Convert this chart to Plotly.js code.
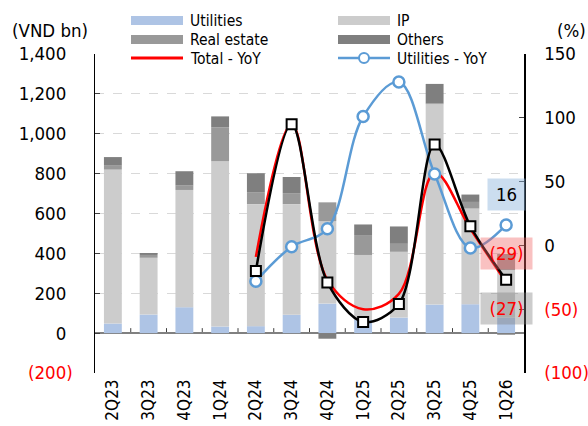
<!DOCTYPE html>
<html>
<head>
<meta charset="utf-8">
<script src="https://cdn.plot.ly/plotly-3.0.1.min.js"></script>
<style>html,body{margin:0;padding:0;background:#fff;}#chart{width:588px;height:426px;}</style>
</head>
<body>
<div id="chart"></div>
<script>
// ---- data ----
const categories   = ['2Q23','3Q23','4Q23','1Q24','2Q24','3Q24','4Q24','1Q25','2Q25','3Q25','4Q25','1Q26'];
const utilities    = [48, 93, 130, 33, 35, 92, 148, 66, 78, 143, 145, 78];
const ip           = [772, 285, 588, 829, 612, 555, 414, 326, 330, 1005, 480, 238];
const realEstate   = [20, 14, 24, 170, 60, 55, 94, 100, 40, 5, 33, 81];
const others       = [43, 10, 70, 55, 95, 81, -28, 53, 87, 97, 37, -8];
const yoyCats      = ['2Q24','3Q24','4Q24','1Q25','2Q25','3Q25','4Q25','1Q26'];
const totalYoY     = [-9, 95, -27, -50, -38, 57, 13, -29];
const ipYoY        = [-20, 95, -29, -60, -46, 79, 15, -27];
const utilitiesYoY = [-28, -1, 13, 101, 128, 56, -2, 16];
const leftTickVals   = [-200, 0, 200, 400, 600, 800, 1000, 1200, 1400];
const leftTickLabels = ['(200)', '0', '200', '400', '600', '800', '1,000', '1,200', '1,400'];
const rightTickVals   = [-100, -50, 0, 50, 100, 150];
const rightTickLabels = ['(100)', '(50)', '0', '50', '100', '150'];

// ---- styling ----
const FONT = 'DejaVu Sans Condensed, Liberation Sans, Arial, sans-serif';
const C_UTIL = '#AEC4E5', C_IP = '#CCCCCC', C_RE = '#999999', C_OTH = '#7F7F7F';
const C_RED = '#FF0000', C_BLUE = '#5B9BD5';
const L = 95, R = 64, T = 54, B = 53, W = 588 - L - R, H = 426 - T - B;
const px = x => (x - L) / W;
const py = y => (426 - B - y) / H;

const fmt = v => v < 0 ? '(' + Math.abs(v) + ')' : String(v);
const leftText = leftTickLabels.map((t, i) => leftTickVals[i] < 0
  ? '<span style="color:#FF0000">' + t + '</span>'
  : t + '<span style="color:rgba(0,0,0,0)">)</span>');
const rightText = rightTickLabels.map((t, i) => rightTickVals[i] < 0
  ? '<span style="color:#FF0000">' + t + '</span>' : t);

const bar = (name, y, color) => ({
  type: 'bar', name, x: categories, y, marker: {color, line: {width: 0}},
  showlegend: false, hoverinfo: 'skip'
});

const traces = [
  bar('Utilities', utilities, C_UTIL),
  bar('IP', ip, C_IP),
  bar('Real estate', realEstate, C_RE),
  bar('Others', others, C_OTH),
  {type: 'scatter', mode: 'lines', name: 'Total - YoY', x: yoyCats, y: totalYoY, yaxis: 'y2',
   line: {color: C_RED, width: 2.5, shape: 'spline'}, showlegend: false},
  {type: 'scatter', mode: 'lines+markers', name: 'Utilities - YoY', x: yoyCats, y: utilitiesYoY, yaxis: 'y2',
   line: {color: C_BLUE, width: 2.5, shape: 'spline'},
   marker: {symbol: 'circle', size: 11, color: '#FFFFFF', line: {color: C_BLUE, width: 2.5}}, showlegend: false},
  {type: 'scatter', mode: 'lines+markers', name: 'IP - YoY', x: yoyCats, y: ipYoY, yaxis: 'y2',
   line: {color: '#000000', width: 2.5, shape: 'spline', smoothing: 0.9},
   marker: {symbol: 'square', size: 10, color: '#FFFFFF', line: {color: '#000000', width: 2}}, showlegend: false}
];

const shapes = [];
// category-boundary ticks on the zero line
for (let i = 0; i < categories.length - 1; i++) {
  shapes.push({type: 'line', xref: 'x', yref: 'y', x0: i + 0.5, x1: i + 0.5, y0: 0, y1: 25,
               line: {color: '#404040', width: 1}, layer: 'below'});
}
// custom legend
const legendRect = (x0, x1, y0, y1, color) => ({type: 'rect', xref: 'paper', yref: 'paper',
  x0: px(x0), x1: px(x1), y0: py(y1), y1: py(y0), fillcolor: color, line: {width: 0}});
shapes.push(legendRect(131, 183, 16, 25, C_UTIL));
shapes.push(legendRect(338, 390, 16, 25, C_IP));
shapes.push(legendRect(131, 183, 35, 44, C_RE));
shapes.push(legendRect(338, 390, 35, 44, C_OTH));
shapes.push({type: 'line', xref: 'paper', yref: 'paper', x0: px(131), x1: px(183), y0: py(58), y1: py(58),
             line: {color: C_RED, width: 3}});
shapes.push({type: 'line', xref: 'paper', yref: 'paper', x0: px(338), x1: px(390), y0: py(58), y1: py(58),
             line: {color: C_BLUE, width: 2.5}});
shapes.push({type: 'circle', xref: 'paper', yref: 'paper', x0: px(359), x1: px(369), y0: py(63), y1: py(53),
             fillcolor: '#FFFFFF', line: {color: C_BLUE, width: 2}});

const legText = (text, x, y) => ({xref: 'paper', yref: 'paper', x: px(x), y: py(y), text,
  showarrow: false, xanchor: 'left', yanchor: 'middle', font: {family: FONT, size: 15.5, color: '#000'}});

const last = a => a[a.length - 1];
const lastCat = last(yoyCats);
const annotations = [
  {xref: 'paper', yref: 'paper', x: px(50), y: py(30), text: '(VND bn)', showarrow: false,
   xanchor: 'center', yanchor: 'middle', font: {family: FONT, size: 18.5, color: '#000'}},
  {xref: 'paper', yref: 'paper', x: px(571), y: py(30), text: '(%)', showarrow: false,
   xanchor: 'center', yanchor: 'middle', font: {family: FONT, size: 18.5, color: '#000'}},
  legText('Utilities', 188, 21), legText('IP', 395, 21),
  legText('Real estate', 188, 40), legText('Others', 395, 40),
  legText('Total - YoY', 188, 58.5), legText('Utilities - YoY', 395, 58.5),
  {xref: 'x', yref: 'y2', x: lastCat, y: last(utilitiesYoY), yshift: 30, text: fmt(last(utilitiesYoY)),
   showarrow: false, width: 33, height: 27, borderpad: 2, bgcolor: 'rgba(140,180,220,0.45)',
   font: {family: FONT, size: 18.5, color: '#000'}},
  {xref: 'x', yref: 'y2', x: lastCat, y: last(totalYoY), yshift: 28.5, text: fmt(last(totalYoY)),
   showarrow: false, width: 47, height: 27, borderpad: 2, bgcolor: 'rgba(240,100,100,0.4)',
   font: {family: FONT, size: 18.5, color: '#FF0000'}},
  {xref: 'x', yref: 'y2', x: lastCat, y: last(ipYoY), yshift: -28.5, text: fmt(last(ipYoY)),
   showarrow: false, width: 47, height: 27, borderpad: 2, bgcolor: 'rgba(128,128,128,0.4)',
   font: {family: FONT, size: 18.5, color: '#FF0000'}}
];

const layout = {
  width: 588, height: 426,
  margin: {l: L, r: R, t: T, b: B, pad: 0},
  paper_bgcolor: '#FFFFFF', plot_bgcolor: '#FFFFFF',
  font: {family: FONT, size: 18.5, color: '#000'},
  barmode: 'relative', bargap: 0.5,
  showlegend: false,
  xaxis: {type: 'category', categoryorder: 'array', categoryarray: categories, range: [-0.5, 11.5],
          tickangle: -90, ticks: '', showline: false, showgrid: false, zeroline: false,
          tickfont: {family: FONT, size: 17, color: '#000'}, ticklabelstandoff: 2, fixedrange: true},
  yaxis: {range: [-200, 1400], tickvals: leftTickVals, ticktext: leftText,
          showline: true, linecolor: '#000', linewidth: 1.5, ticks: 'inside', ticklen: 5, tickcolor: '#404040',
          showgrid: true, gridcolor: '#D9D9D9', griddash: 'dash', gridwidth: 1,
          zeroline: true, zerolinecolor: '#808080', zerolinewidth: 2,
          tickfont: {family: FONT, size: 18.5, color: '#000'}, ticklabelstandoff: 17, fixedrange: true},
  yaxis2: {range: [-100, 150], overlaying: 'y', side: 'right', tickvals: rightTickVals, ticktext: rightText,
           showline: true, linecolor: '#000', linewidth: 1.5, ticks: 'inside', ticklen: 5, tickcolor: '#404040',
           showgrid: false, zeroline: false,
           tickfont: {family: FONT, size: 18.5, color: '#000'}, ticklabelstandoff: 15, fixedrange: true},
  shapes, annotations
};

Plotly.newPlot('chart', traces, layout, {displayModeBar: false, staticPlot: true});
</script>
</body>
</html>
